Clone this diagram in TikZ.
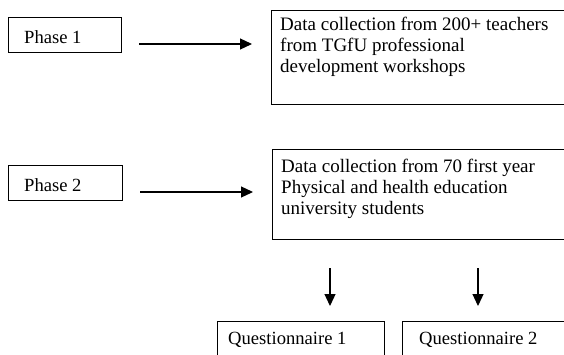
\documentclass[tikz,border=0pt]{standalone}
\usepackage{fontspec}
\setmainfont{Liberation Serif}
\usetikzlibrary{arrows.meta}
\tikzset{
  frame/.style={draw, line width=1.2pt, inner sep=0pt, anchor=north west},
  txt/.style={inner sep=0pt, align=left, font=\fontsize{18.6}{21}\selectfont},
  bigtxt/.style={inner sep=0pt, align=left, font=\fontsize{19}{21}\selectfont},
  arr/.style={line width=1.2pt, -{Triangle[length=12pt,width=11pt]}}
}
\begin{document}
\begin{tikzpicture}[x=1pt,y=-1pt]
\useasboundingbox (0,0) rectangle (564,354);
\clip (0,0) rectangle (564,354);
% boxes
\node[frame, minimum width=113, minimum height=35] (p1) at (8,17) {};
\node[txt, anchor=base west] (p1t) at (24,43) {Phase 1};
\node[frame, minimum width=114, minimum height=35] (p2) at (8,165) {};
\node[txt, anchor=base west] (p2t) at (24,191) {Phase 2};
\node[frame, minimum width=320, minimum height=94] (d1) at (271,10) {};
\node[bigtxt, anchor=north west] (d1t) at (280,17) {Data collection from 200+ teachers\\from TGfU professional\\development workshops};
\node[frame, minimum width=320, minimum height=90] (d2) at (272,149) {};
\node[bigtxt, anchor=north west] (d2t) at (281,158.5) {Data collection from 70 first year\\Physical and health education\\university students};
\node[frame, minimum width=167, minimum height=60] (q1) at (217,321) {};
\node[txt, anchor=base west] (q1t) at (228,344) {Questionnaire 1};
\node[frame, minimum width=200, minimum height=60] (q2) at (402,321) {};
\node[txt, anchor=base west] (q2t) at (419,344) {Questionnaire 2};
% arrow ends
\coordinate (a1s) at (139,44);
\coordinate (a1e) at (252,44);
\coordinate (a2s) at (140,192);
\coordinate (a2e) at (253,192);
\coordinate (a3s) at (330,268);
\coordinate (a3e) at (330,306);
\coordinate (a4s) at (478,268);
\coordinate (a4e) at (478,306);
\draw[arr] (a1s) -- (a1e);
\draw[arr] (a2s) -- (a2e);
\draw[arr] (a3s) -- (a3e);
\draw[arr] (a4s) -- (a4e);
\end{tikzpicture}
\end{document}
